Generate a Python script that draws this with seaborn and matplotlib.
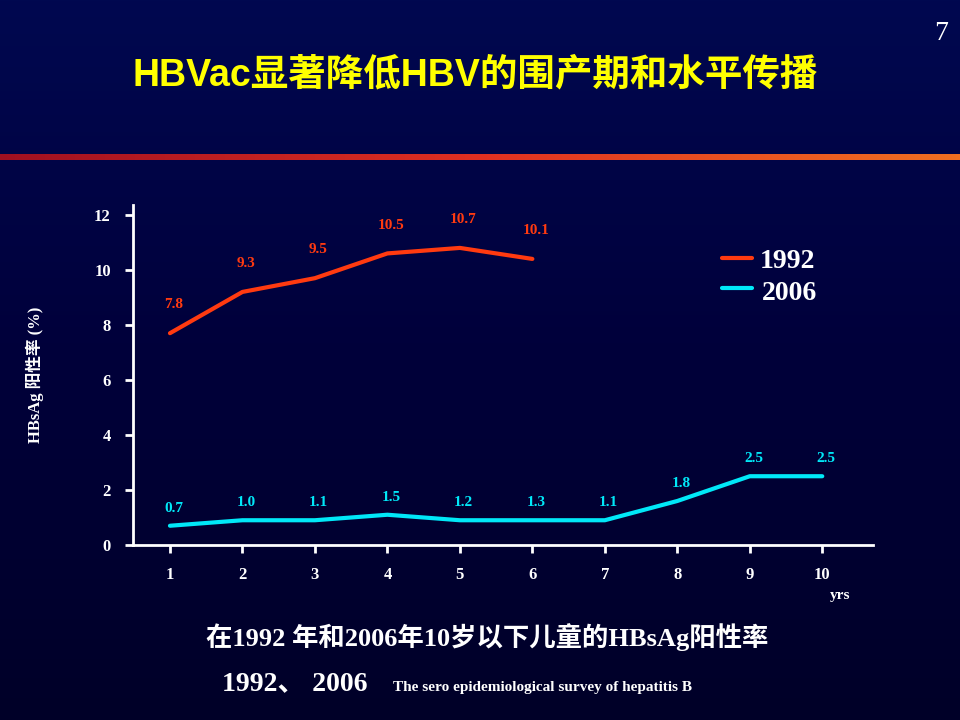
import numpy as np
import pandas as pd
import matplotlib
matplotlib.use("Agg")
import matplotlib.pyplot as plt
import seaborn as sns
from matplotlib.colors import LinearSegmentedColormap

years = [1, 2, 3, 4, 5, 6, 7, 8, 9, 10]
y1992 = [7.7, 9.2, 9.7, 10.6, 10.8, 10.4]
lab1992 = ["7.8", "9.3", "9.5", "10.5", "10.7", "10.1"]
y2006 = [0.7, 0.9, 0.9, 1.1, 0.9, 0.9, 0.9, 1.6, 2.5, 2.5]
lab2006 = ["0.7", "1.0", "1.1", "1.5", "1.2", "1.3", "1.1", "1.8", "2.5", "2.5"]
yticks = [0, 2, 4, 6, 8, 10, 12]

df = pd.concat([
    pd.DataFrame({"yr": years[:6], "v": y1992, "s": "1992"}),
    pd.DataFrame({"yr": years, "v": y2006, "s": "2006"}),
])

sns.set_theme(style="white")
plt.rcParams["font.family"] = ["Liberation Serif", "Noto Sans CJK SC"]
c92, c06 = "#FF3A10", "#00E8F8"

fig = plt.figure(figsize=(9.6, 7.2), dpi=100)
bg = fig.add_axes([0, 0, 1, 1])
grad = np.linspace(0, 1, 256)[:, None]
bg.imshow(grad, aspect="auto", extent=[0, 1, 0, 1],
          cmap=LinearSegmentedColormap.from_list("b", ["#000850", "#00003a", "#000028"]))
band = np.linspace(0, 1, 256)[None, :]
bg.imshow(band, aspect="auto", extent=[0, 1, 0.778, 0.786],
          cmap=LinearSegmentedColormap.from_list("r", ["#A01020", "#E03020", "#F07020"]))
bg.set_xlim(0, 1); bg.set_ylim(0, 1); bg.axis("off")

ax = fig.add_axes([133/960, 1-545/720, 740/960, 340/720])
ax.set_facecolor("none")
sns.lineplot(data=df, x="yr", y="v", hue="s", palette=[c92, c06], linewidth=3, ax=ax, legend=False)
ax.set_xlim(0.49, 10.7); ax.set_ylim(0, 12.36)
for s in ["top", "right"]:
    ax.spines[s].set_visible(False)
for s in ["left", "bottom"]:
    ax.spines[s].set_color("white"); ax.spines[s].set_linewidth(2)
ax.set_yticks(yticks)
ax.set_xticks(years)
ax.set_yticklabels([str(t) for t in yticks], color="white", fontweight="bold", fontsize=12)
ax.set_xticklabels([str(t) for t in years], color="white", fontweight="bold", fontsize=12)
ax.tick_params(axis="both", direction="out", length=6, width=2, color="white", pad=10, bottom=True, left=True)
ax.set_xlabel(""); ax.set_ylabel("HBsAg 阳性率 (%)", color="white", fontweight="bold", fontsize=12, labelpad=36)
for x, v, l in zip(years, y1992, lab1992):
    ax.text(x + 0.05, v + 0.9, l, color=c92, fontsize=11, fontweight="bold", ha="center")
for x, v, l in zip(years, y2006, lab2006):
    ax.text(x + 0.05, v + 0.5, l, color=c06, fontsize=11, fontweight="bold", ha="center")
ax.text(10.25, -1.95, "yrs", color="white", fontsize=11, fontweight="bold", ha="center")

fig.add_artist(plt.Line2D([722/960, 752/960], [1-258/720]*2, color=c92, lw=3))
fig.add_artist(plt.Line2D([722/960, 752/960], [1-288/720]*2, color=c06, lw=3))
fig.text(760/960, 1-262/720, "1992", color="white", fontsize=20, fontweight="bold", va="center")
fig.text(762/960, 1-294/720, "2006", color="white", fontsize=20, fontweight="bold", va="center")

fig.text(475/960, 1-75/720, "HBVac显著降低HBV的围产期和水平传播", color="#FFFF00", fontsize=27,
         fontweight="bold", ha="center", va="center", family=["Liberation Sans", "Noto Sans CJK SC"])
fig.text(941/960, 1-33/720, "7", color="white", fontsize=20, ha="center", va="center")
fig.text(487/960, 1-637/720, "在1992 年和2006年10岁以下儿童的HBsAg阳性率", color="white", fontsize=19,
         fontweight="bold", ha="center", va="center")
fig.text(222/960, 1-684/720, "1992、 2006", color="white", fontsize=20, fontweight="bold", va="center")
fig.text(393/960, 1-687/720, "The sero epidemiological survey of hepatitis B", color="white", fontsize=11,
         fontweight="bold", va="center")
fig.savefig("out.png", dpi=100)
